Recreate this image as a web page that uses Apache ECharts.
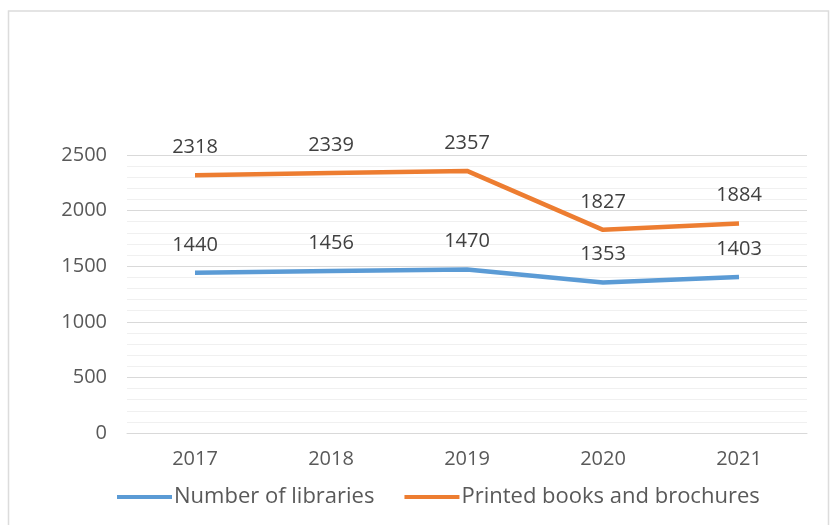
<!DOCTYPE html>
<html><head><meta charset="utf-8">
<script src="https://cdn.jsdelivr.net/npm/echarts@6/dist/echarts.min.js"></script>
<style>html,body{margin:0;padding:0;background:#fff}#c{width:831px;height:525px}</style>
</head><body><div id="c"></div>
<script>
var years = ['2017','2018','2019','2020','2021'];
var libraries = [1440,1456,1470,1353,1403];
var books = [2318,2339,2357,1827,1884];
var seriesNames = ['Number of libraries','Printed books and brochures'];
var chart = echarts.init(document.getElementById('c'));
var font = '"Open Sans", sans-serif';
function mkSeries(name, data, color){
  return {name:name,type:'line',data:data,symbol:'circle',symbolSize:0,showSymbol:true,
    lineStyle:{width:4.5,color:color},itemStyle:{color:color},
    label:{show:true,position:'top',distance:18,color:'#404040',fontSize:20,fontFamily:font}};
}
chart.setOption({
  animation:false,
  backgroundColor:'#fff',
  graphic:[{type:'rect',shape:{x:8.5,y:11,width:820,height:520},style:{fill:'none',stroke:'#dcdcdc',lineWidth:1.5},silent:true}],
  grid:{left:127,right:24,top:155,bottom:92},
  legend:{top:481,left:112,itemWidth:55,itemHeight:4,itemGap:30,icon:'rect',
    textStyle:{color:'#595959',fontSize:22,fontFamily:font,padding:[0,0,0,-3]},
    data:seriesNames},
  xAxis:{type:'category',data:years,
    axisLine:{show:true,lineStyle:{color:'#d9d9d9'}},axisTick:{show:false},
    axisLabel:{color:'#595959',fontSize:20,fontFamily:font,margin:16}},
  yAxis:{type:'value',min:0,max:2500,interval:500,
    axisLine:{show:false},axisTick:{show:false},
    axisLabel:{color:'#595959',fontSize:20,fontFamily:font,margin:20,formatter:function(v){return String(v);}},
    splitLine:{lineStyle:{color:'#d9d9d9'}},
    minorTick:{show:false,splitNumber:5},
    minorSplitLine:{show:true,lineStyle:{color:'#f0f0f0'}}},
  series:[mkSeries(seriesNames[0],libraries,'#5B9BD5'),mkSeries(seriesNames[1],books,'#ED7D31')]
});
</script></body></html>
